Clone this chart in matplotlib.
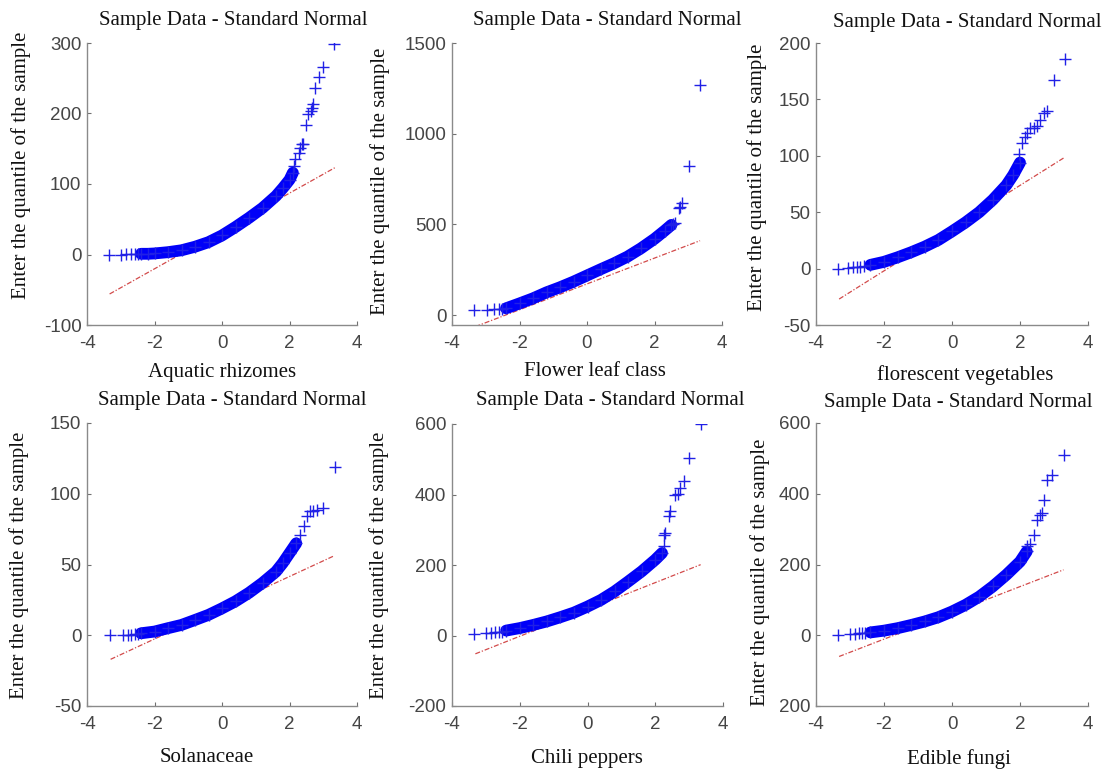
#!/usr/bin/env python
"""
Normal QQ plots of six vegetable classes (sample quantile vs standard normal).
"""
import matplotlib
matplotlib.use('Agg')
import matplotlib.pyplot as plt

W, H = 1107, 769

# Aquatic rhizomes
aquatic_low_x = [-3.35, -2.98, -2.83, -2.69, -2.59, -2.49]
aquatic_low_y = [0, 0, 0.5, 0.5, 1, 1]
aquatic_mid_x = [-2.4, -2.2, -2.0, -1.6, -1.2, -0.8, -0.4, 0.0, 0.4, 0.8, 1.2, 1.6, 1.8, 2.0, 2.1]
aquatic_mid_y = [1, 1, 1.5, 3.3, 6, 11, 17.5, 27, 39, 52, 66, 83, 94, 106, 116]
aquatic_high_x = [2.12, 2.17, 2.27, 2.31, 2.37, 2.41, 2.5, 2.56, 2.63, 2.66, 2.69, 2.76, 2.86, 2.98, 3.31]
aquatic_high_y = [125, 135, 144, 151, 157, 157, 183, 199, 203, 208, 213, 236, 252, 266, 299]
aquatic_ref_x = [-3.33, 3.34]
aquatic_ref_y = [-56, 123]

# Flower leaf class
flower_low_x = [-3.34, -2.96, -2.77, -2.62, -2.52]
flower_low_y = [28, 30, 31, 32, 34]
flower_mid_x = [-2.4, -2.0, -1.6, -1.2, -0.8, -0.4, 0.0, 0.4, 0.8, 1.2, 1.6, 2.0, 2.3, 2.5]
flower_mid_y = [37, 64, 92, 125, 153, 184, 218, 252, 285, 322, 368, 420, 465, 497]
flower_high_x = [2.55, 2.6, 2.72, 2.77, 2.81, 3.01, 3.35]
flower_high_y = [500, 505, 589, 598, 617, 819, 1266]
flower_ref_x = [-3.31, 3.35]
flower_ref_y = [-64, 410]

# florescent vegetables
floret_low_x = [-3.34, -3.05, -2.9, -2.8, -2.7, -2.59]
floret_low_y = [0, 0.5, 1, 1, 1.5, 2]
floret_mid_x = [-2.4, -2.0, -1.6, -1.2, -0.8, -0.4, 0.0, 0.4, 0.8, 1.2, 1.6, 1.8, 2.0]
floret_mid_y = [3.3, 6, 10, 14.5, 19.5, 25.4, 33, 41, 50, 61, 74, 83, 94]
floret_high_x = [1.96, 2.05, 2.15, 2.2, 2.3, 2.4, 2.5, 2.6, 2.7, 2.8, 2.99, 3.33]
floret_high_y = [102, 111, 117, 120, 125, 125, 126, 132, 138, 140, 167, 186]
floret_ref_x = [-3.32, 3.28]
floret_ref_y = [-27, 98]

# Solanaceae
solan_low_x = [-3.33, -2.94, -2.79, -2.69, -2.59, -2.49]
solan_low_y = [0, 0, 0.5, 0.5, 1, 1]
solan_mid_x = [-2.4, -2.0, -1.6, -1.2, -0.8, -0.4, 0.0, 0.4, 0.8, 1.2, 1.6, 1.8, 2.0, 2.2]
solan_mid_y = [1.4, 2.6, 5, 7.3, 10.8, 14.4, 19, 24, 30, 37, 45, 51, 58, 65]
solan_high_x = [2.32, 2.42, 2.51, 2.61, 2.71, 2.81, 3.0, 3.34]
solan_high_y = [71, 77, 84, 87.5, 88, 88.4, 90, 119]
solan_ref_x = [-3.3, 3.31]
solan_ref_y = [-17, 56]

# Chili peppers
chili_low_x = [-3.34, -3.01, -2.86, -2.72, -2.62, -2.52]
chili_low_y = [5, 7, 8, 9, 10, 11]
chili_mid_x = [-2.4, -2.0, -1.6, -1.2, -0.8, -0.4, 0.0, 0.4, 0.8, 1.2, 1.6, 2.0, 2.2]
chili_mid_y = [14, 21, 30, 40, 52, 65, 82, 101, 125, 153, 182, 215, 234]
chili_high_x = [2.25, 2.27, 2.3, 2.4, 2.44, 2.59, 2.66, 2.74, 2.84, 2.99, 3.34]
chili_high_y = [253, 286, 290, 338, 352, 400, 402, 419, 437, 504, 600]
chili_ref_x = [-3.31, 3.34]
chili_ref_y = [-52, 201]

# Edible fungi
fungi_low_x = [-3.34, -2.99, -2.85, -2.75, -2.65, -2.56]
fungi_low_y = [1, 3, 4, 5, 6, 7]
fungi_mid_x = [-2.4, -2.0, -1.6, -1.2, -0.8, -0.4, 0.0, 0.4, 0.8, 1.2, 1.6, 2.0, 2.2]
fungi_mid_y = [8, 13, 20, 29, 39, 51, 67, 86, 109, 138, 171, 208, 237]
fungi_high_x = [2.2, 2.28, 2.4, 2.5, 2.6, 2.65, 2.7, 2.79, 2.94, 3.28]
fungi_high_y = [251, 258, 284, 326, 341, 345, 383, 440, 454, 510]
fungi_ref_x = [-3.32, 3.28]
fungi_ref_y = [-60, 185]

x_ticks = [-4, -2, 0, 2, 4]
y_limits = [(-100, 300), (-55, 1500), (-50, 200), (-50, 150), (-200, 600), (-200, 600)]
y_ticks = [
    [-100, 0, 100, 200, 300],
    [0, 500, 1000, 1500],
    [-50, 0, 50, 100, 150, 200],
    [-50, 0, 50, 100, 150],
    [-200, 0, 200, 400, 600],
    [-200, 0, 200, 400, 600],
]
y_ticklabels = [None, None, None, None, None, ['200', '0', '200', '400', '600']]
names = ['Aquatic rhizomes', 'Flower leaf class', 'florescent vegetables',
         'Solanaceae', 'Chili peppers', 'Edible fungi']

TITLE = 'Sample Data - Standard Normal'
YLABEL = 'Enter the quantile of the sample'

# pixel boxes (left, top, right, bottom) and text anchors
boxes = [(87, 43, 357, 325), (452, 43, 722, 325), (816, 43, 1088, 325),
         (87, 423, 357, 706), (452, 424, 723, 706), (816, 423, 1088, 706)]
title_pos = [(233, 21), (607, 21), (967, 22), (232, 401), (610, 400), (958, 402)]
xlabel_pos = [(222, 373), (595, 372), (965, 375), (207, 758), (587, 759), (959, 759)]
ylabel_pos = [(21, 165), (380, 181), (757, 177), (19, 565), (379, 565), (760, 572)]

series = [
    (aquatic_low_x, aquatic_low_y, aquatic_mid_x, aquatic_mid_y, aquatic_high_x, aquatic_high_y, aquatic_ref_x, aquatic_ref_y),
    (flower_low_x, flower_low_y, flower_mid_x, flower_mid_y, flower_high_x, flower_high_y, flower_ref_x, flower_ref_y),
    (floret_low_x, floret_low_y, floret_mid_x, floret_mid_y, floret_high_x, floret_high_y, floret_ref_x, floret_ref_y),
    (solan_low_x, solan_low_y, solan_mid_x, solan_mid_y, solan_high_x, solan_high_y, solan_ref_x, solan_ref_y),
    (chili_low_x, chili_low_y, chili_mid_x, chili_mid_y, chili_high_x, chili_high_y, chili_ref_x, chili_ref_y),
    (fungi_low_x, fungi_low_y, fungi_mid_x, fungi_mid_y, fungi_high_x, fungi_high_y, fungi_ref_x, fungi_ref_y),
]

SERIF = ['Liberation Serif', 'DejaVu Serif']
SANS = ['Liberation Sans', 'DejaVu Sans']
plt.rcParams['axes.unicode_minus'] = False


def main():
    fig = plt.figure(figsize=(W / 100, H / 100), dpi=100)

    for i, (lx, ly, mx, my, hx, hy, rx, ry) in enumerate(series):
        l, t, r, b = boxes[i]
        ax = fig.add_axes([l / W, 1 - b / H, (r - l) / W, (b - t) / H])

        # fitted reference line
        ax.plot(rx, ry, color='#d24a4a', lw=0.9, dashes=(4, 1.5, 1, 1.5), zorder=1)
        # dense body of the sample
        ax.plot(mx, my, color='#0000f8', lw=8.5, solid_capstyle='round',
                solid_joinstyle='round', zorder=2)
        ax.plot(lx + mx + hx, ly + my + hy, '+', color='#2020e6', ms=9, mew=1.0, zorder=3)

        ax.set_xlim(-4, 4)
        ax.set_ylim(*y_limits[i])
        ax.set_xticks(x_ticks)
        ax.set_yticks(y_ticks[i])
        if y_ticklabels[i] is not None:
            ax.set_yticklabels(y_ticklabels[i])
        for s in ('top', 'right'):
            ax.spines[s].set_visible(False)
        for s in ('left', 'bottom'):
            ax.spines[s].set_color('#8a8a8a')
            ax.spines[s].set_linewidth(1.0)
        ax.tick_params(direction='in', length=3, color='#707070', labelcolor='#454545',
                       labelsize=13.5)
        ax.tick_params(axis='x', pad=7)
        ax.tick_params(axis='y', pad=4)
        for lab in ax.get_xticklabels() + ax.get_yticklabels():
            lab.set_family(SANS)

        fig.text(title_pos[i][0] / W, 1 - title_pos[i][1] / H, TITLE, family=SERIF,
                 fontsize=15, ha='center', va='center', color='#111111')
        fig.text(xlabel_pos[i][0] / W, 1 - xlabel_pos[i][1] / H, names[i], family=SERIF,
                 fontsize=15, ha='center', va='center', color='#111111')
        fig.text(ylabel_pos[i][0] / W, 1 - ylabel_pos[i][1] / H, YLABEL, family=SERIF,
                 fontsize=15, ha='center', va='center', rotation=90, color='#111111')

    fig.savefig('out.png', dpi=100)


if __name__ == '__main__':
    main()
